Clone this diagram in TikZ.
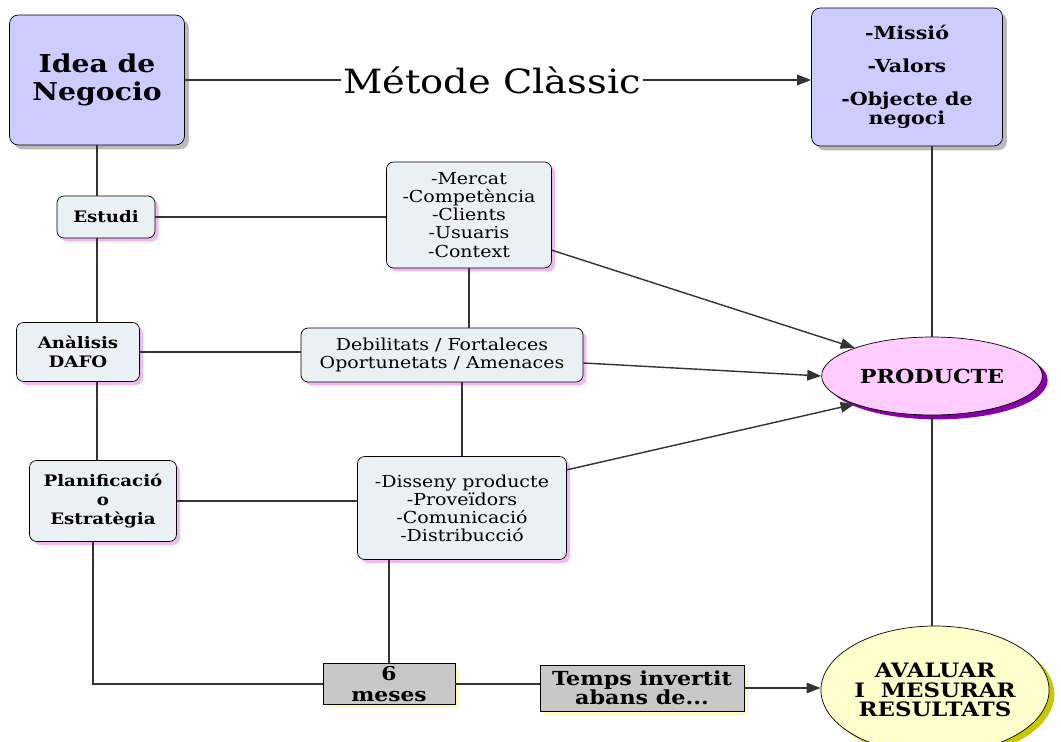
\documentclass[tikz,border=0pt]{standalone}
\usepackage{fontspec}
\setmainfont[FakeStretch=1.15]{DejaVu Serif}
\usetikzlibrary{positioning}
\usetikzlibrary{shapes}
\usetikzlibrary{shadows}
\usetikzlibrary{arrows.meta}
\definecolor{lavender}{RGB}{204,204,255}
\definecolor{boxblue}{RGB}{234,241,245}
\definecolor{boxgray}{RGB}{200,200,200}
\definecolor{prodpink}{RGB}{255,204,255}
\definecolor{prodshadow}{RGB}{136,0,170}
\definecolor{evalyellow}{RGB}{255,255,204}
\definecolor{evalshadow}{RGB}{200,200,0}
\definecolor{pinkshadow}{RGB}{240,185,240}
\definecolor{glowyellow}{RGB}{250,250,190}
\tikzset{topblock/.style={draw, text centered, align=center, rounded corners=5pt, fill=lavender, drop shadow={fill=black!45, shadow xshift=2.5pt, shadow yshift=-2.5pt, opacity=.6}}}
\tikzset{block/.style={draw, text centered, align=center, rounded corners=4pt, fill=boxblue, drop shadow={fill=pinkshadow, shadow xshift=2pt, shadow yshift=-2pt, opacity=1}}}
\tikzset{timeblock/.style={draw, text centered, align=center, fill=boxgray, drop shadow={fill=glowyellow, shadow xshift=2pt, shadow yshift=-2pt, opacity=1}}}
\tikzset{result/.style={draw, ellipse, text centered, align=center}}
\tikzset{connect/.style={draw, line width=0.8pt, black!80}}
\tikzset{>={Triangle[length=8pt,width=6pt]}}
\begin{document}
\begin{tikzpicture}[x=0.02cm,y=-0.02cm]
\useasboundingbox (0,0) rectangle (1061,742);

%top blocks
\node[topblock,minimum width=3.5cm,minimum height=2.6cm,font=\fontsize{14}{15.5}\selectfont\bfseries] (idea) at (97,80) {Idea de\\Negocio};
\node[font=\fontsize{19}{22}\selectfont,inner sep=1pt] (metode) at (492,80) {Métode Clàssic};
\node[topblock,minimum width=3.82cm,minimum height=2.76cm,font=\fontsize{10.2}{11.2}\selectfont\bfseries] (missio) at (907,77) {-Missió\\[7.5pt]-Valors\\[7.5pt]-Objecte de\\negoci};

%left column
\node[block,minimum width=1.96cm,minimum height=0.84cm,font=\fontsize{9}{11}\selectfont\bfseries] (estudi) at (106,217) {Estudi};
\node[block,minimum width=2.46cm,minimum height=1.18cm,font=\fontsize{9}{11}\selectfont\bfseries] (anal) at (78,352) {Anàlisis\\DAFO};
\node[block,minimum width=2.94cm,minimum height=1.62cm,font=\fontsize{9}{11}\selectfont\bfseries] (plan) at (103,501) {Planificació\\o\\Estratègia};

%middle column
\node[block,minimum width=3.3cm,minimum height=2.12cm,font=\fontsize{9.4}{10.3}\selectfont] (mercat) at (469,215) {-Mercat\\-Competència\\-Clients\\-Usuaris\\-Context};
\node[block,minimum width=5.64cm,minimum height=1.08cm,font=\fontsize{9.4}{10.5}\selectfont] (debil) at (442,355) {Debilitats / Fortaleces\\Oportunetats / Amenaces};
\node[block,minimum width=4.18cm,minimum height=2.06cm,font=\fontsize{9.4}{10.2}\selectfont] (disseny) at (462,508) {-Disseny producte\\-Proveïdors\\-Comunicació\\-Distribucció};

%time
\node[timeblock,minimum width=2.64cm,minimum height=0.82cm,inner sep=1pt,font=\fontsize{10.8}{11.6}\selectfont\bfseries] (meses) at (389,684) {6\\meses};
\node[timeblock,minimum width=4.08cm,minimum height=0.92cm,inner sep=1pt,font=\fontsize{11}{11}\selectfont\bfseries] (temps) at (642,688) {Temps invertit\\abans de...};

%results
\node[result,fill=prodpink,minimum width=3.9cm,minimum height=1.56cm,font=\fontsize{11}{12}\selectfont\bfseries,drop shadow={fill=prodshadow,shadow xshift=3pt,shadow yshift=-2.5pt,opacity=1}] (producte) at (932,376) {PRODUCTE};
\node[result,fill=evalyellow,minimum width=4.5cm,minimum height=2.56cm,inner sep=0pt,font=\fontsize{11.3}{11.3}\selectfont\bfseries,drop shadow={fill=evalshadow,shadow xshift=3pt,shadow yshift=-2.5pt,opacity=1}] (avaluar) at (935,690) {AVALUAR\\I\ \ MESURAR\\RESULTATS};

%classic method
\path[connect] (idea.east) -- (metode.west);
\path[connect,->] (metode.east) -- (metode.east -| missio.west);

%left chain
\path[connect] (idea.south) -- (idea.south |- estudi.north);
\path[connect] (estudi.south -| idea.south) -- (anal.north -| idea.south);
\path[connect] (anal.south -| idea.south) -- (plan.north -| idea.south);
\path[connect] ([xshift=-0.2cm]plan.south) |- (meses.west);

%rows
\path[connect] (estudi.east) -- (estudi.east -| mercat.west);
\path[connect] (anal.east) -- (anal.east -| debil.west);
\path[connect] (plan.east) -- (plan.east -| disseny.west);

%middle chain
\path[connect] (mercat.south) -- (mercat.south |- debil.north);
\path[connect] (disseny.north |- debil.south) -- (disseny.north);
\path[connect] (meses.north |- disseny.south) -- (meses.north);

%to product
\path[connect,->] (mercat.337) -- (producte.160);
\path[connect,->] ([yshift=-0.16cm]debil.east) -- (producte.west);
\path[connect,->] (disseny.20) -- (producte.200);

%right chain
\path[connect] (producte.north |- missio.south) -- (producte.north);
\path[connect] (producte.south) -- (producte.south |- avaluar.north);

%time flow
\path[connect] (meses.east) -- (meses.east -| temps.west);
\path[connect,->] (temps.east) -- (temps.east -| avaluar.west);

\end{tikzpicture}
\end{document}
